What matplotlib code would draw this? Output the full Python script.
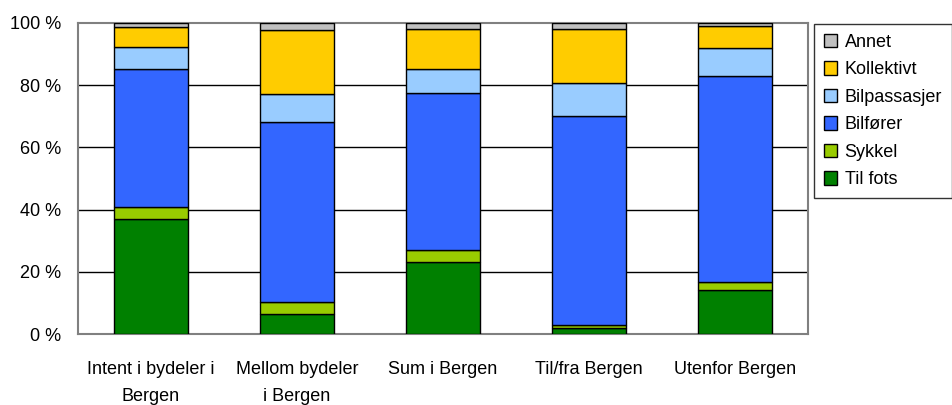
import matplotlib
matplotlib.use("Agg")
import matplotlib.pyplot as plt
import numpy as np

plt.rcParams['font.family'] = ['Liberation Sans', 'DejaVu Sans']

categories = ["Intent i bydeler i\nBergen", "Mellom bydeler\ni Bergen", "Sum i Bergen",
              "Til/fra Bergen", "Utenfor Bergen"]
series_names = ["Til fots", "Sykkel", "Bilfører", "Bilpassasjer", "Kollektivt", "Annet"]
til_fots     = [36.9, 6.4, 23.1, 2.1, 14.1]
sykkel       = [3.8, 4.1, 3.9, 0.9, 2.6]
bilforer     = [44.4, 57.5, 50.5, 67.0, 66.2]
bilpassasjer = [7.1, 9.0, 7.6, 10.6, 9.0]
kollektivt   = [6.4, 20.6, 12.8, 17.4, 7.0]
annet        = [1.4, 2.4, 2.1, 2.0, 1.1]
yticks = [0, 20, 40, 60, 80, 100]
ytick_labels = ["0 %", "20 %", "40 %", "60 %", "80 %", "100 %"]

colors = ["#008000", "#99CC00", "#3366FF", "#99CCFF", "#FFCC00", "#C0C0C0"]
series = [til_fots, sykkel, bilforer, bilpassasjer, kollektivt, annet]

fig = plt.figure(figsize=(9.53, 4.05), dpi=100)
ax = fig.add_axes([78/953, 1-334.3/405, (807.7-78)/953, (334.3-22.7)/405])

x = np.arange(len(categories))
bottom = np.zeros(len(categories))
handles = []
for name, vals, c in zip(series_names, series, colors):
    vals = np.array(vals, dtype=float)
    b = ax.bar(x, vals, bottom=bottom, width=0.507, color=c, edgecolor="black",
               linewidth=1.0, label=name, zorder=3)
    handles.append(b)
    bottom += vals

ax.set_xlim(-0.5, len(categories) - 0.5)
ax.set_ylim(0, 100)
ax.set_yticks(yticks)
ax.set_yticklabels(ytick_labels)
ax.set_xticks(x)
ax.set_xticklabels(categories)
ax.tick_params(axis='both', length=0, labelsize=13, colors="black")
ax.tick_params(axis='y', pad=12)
ax.tick_params(axis='x', pad=19)
for t in ax.get_xticklabels():
    t.set_linespacing(1.8)
for y in yticks[1:-1]:
    ax.axhline(y, color="black", linewidth=1.0, zorder=1)
for s in ax.spines.values():
    s.set_color("#808080")
    s.set_linewidth(1.5)

leg = fig.legend(handles[::-1], series_names[::-1], loc="upper left",
                 bbox_to_anchor=(814/953, 1-24/405), frameon=True, fancybox=False,
                 edgecolor="black", fontsize=13, handlelength=0.75, handleheight=0.75,
                 handletextpad=0.4, labelspacing=0.58, borderpad=0.55, borderaxespad=0)
leg.get_frame().set_linewidth(1.0)

fig.savefig("out.png", dpi=100)
